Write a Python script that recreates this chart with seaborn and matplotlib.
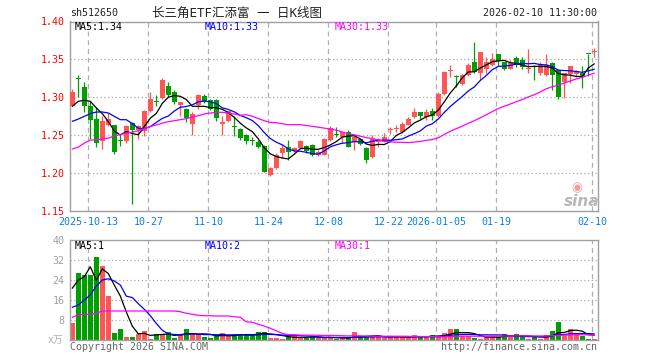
import numpy as np
import pandas as pd
import matplotlib
matplotlib.use("Agg")
import matplotlib.pyplot as plt
import seaborn as sns

# ---------------- data ----------------
dates = (["2025-09-30", "2025-10-09", "2025-10-10"]
         + ["2025-10-%02d" % d for d in (13, 14, 15, 16, 17, 20, 21, 22, 23, 24, 27, 28, 29, 30, 31)]
         + ["2025-11-%02d" % d for d in (3, 4, 5, 6, 7, 10, 11, 12, 13, 14, 17, 18, 19, 20, 21, 24, 25, 26, 27, 28)]
         + ["2025-12-%02d" % d for d in (1, 2, 3, 4, 5, 8, 9, 10, 11, 12, 15, 16, 17, 18, 19, 22, 23, 24, 25, 26, 29, 30, 31)]
         + ["2026-01-%02d" % d for d in (5, 6, 7, 8, 9, 12, 13, 14, 15, 16, 19, 20, 21, 22, 23, 26, 27, 28, 29, 30)]
         + ["2026-02-%02d" % d for d in (2, 3, 4, 5, 6, 9, 10)])

open_ = [1.289, 1.3245, 1.314, 1.289, 1.2715, 1.2427, 1.2635, 1.2638, 1.2434, 1.2418,
         1.2665, 1.2565, 1.255, 1.2824, 1.2942, 1.299, 1.3154, 1.3066, 1.2894, 1.285,
         1.2647, 1.2894, 1.3022, 1.2969, 1.2969, 1.2647, 1.2691, 1.2618, 1.2586, 1.2506,
         1.2429, 1.2405, 1.2361, 1.1977, 1.2065, 1.2264, 1.2343, 1.2286, 1.233, 1.2361,
         1.2369, 1.2242, 1.2242, 1.244, 1.2513, 1.248, 1.2546, 1.2414, 1.2444, 1.2334,
         1.2206, 1.2412, 1.2414, 1.2566, 1.2579, 1.2546, 1.2634, 1.2735, 1.2806, 1.2735,
         1.2819, 1.2753, 1.3044, 1.3346, 1.3267, 1.3176, 1.3295, 1.3467, 1.3317, 1.337,
         1.3428, 1.3573, 1.3463, 1.3375, 1.352, 1.3498, 1.3368, 1.3399, 1.3317, 1.3295,
         1.3459, 1.3362, 1.3207, 1.3309, 1.3309, 1.3326, 1.3571, 1.3602]
high = [1.311, 1.329, 1.320, 1.295, 1.2868, 1.2757, 1.279, 1.264, 1.2497, 1.264,
        1.267, 1.264, 1.283, 1.3075, 1.3035, 1.325, 1.320, 1.310, 1.2934, 1.286,
        1.2806, 1.3045, 1.304, 1.2975, 1.298, 1.2757, 1.2825, 1.2749, 1.259, 1.2515,
        1.2475, 1.244, 1.2374, 1.2079, 1.2264, 1.2374, 1.244, 1.234, 1.2435, 1.2374,
        1.238, 1.231, 1.2462, 1.262, 1.2612, 1.2546, 1.2568, 1.2502, 1.2455, 1.234,
        1.2497, 1.2458, 1.2524, 1.2603, 1.2634, 1.2678, 1.2735, 1.2855, 1.2806, 1.285,
        1.2855, 1.3075, 1.3348, 1.3428, 1.3295, 1.331, 1.345, 1.3723, 1.36, 1.3538,
        1.3591, 1.3573, 1.347, 1.3494, 1.3547, 1.3529, 1.3639, 1.3428, 1.346, 1.3569,
        1.3472, 1.337, 1.3326, 1.3414, 1.3355, 1.3414, 1.3573, 1.3648]
low = [1.288, 1.301, 1.281, 1.245, 1.234, 1.232, 1.262, 1.2246, 1.236, 1.240,
       1.159, 1.245, 1.2484, 1.281, 1.288, 1.298, 1.300, 1.291, 1.275, 1.2674,
       1.2506, 1.285, 1.292, 1.283, 1.2683, 1.2506, 1.268, 1.2484, 1.244, 1.238,
       1.2374, 1.233, 1.2008, 1.1964, 1.2052, 1.2198, 1.2175, 1.2275, 1.232, 1.2264,
       1.222, 1.222, 1.2235, 1.243, 1.248, 1.240, 1.2339, 1.2303, 1.237, 1.2136,
       1.2193, 1.2347, 1.2414, 1.2515, 1.2546, 1.2524, 1.263, 1.2722, 1.2709, 1.270,
       1.270, 1.2735, 1.303, 1.3273, 1.3141, 1.316, 1.328, 1.3317, 1.3229, 1.3317,
       1.3415, 1.3415, 1.336, 1.3375, 1.3406, 1.337, 1.3326, 1.3229, 1.3295, 1.3287,
       1.3097, 1.2978, 1.2987, 1.3185, 1.327, 1.3119, 1.3282, 1.3538]
close = [1.307, 1.324, 1.289, 1.2705, 1.2397, 1.269, 1.2715, 1.228, 1.243, 1.2625,
         1.257, 1.262, 1.2824, 1.2982, 1.2938, 1.3234, 1.3026, 1.2934, 1.2934, 1.2727,
         1.2784, 1.3026, 1.2934, 1.2846, 1.2727, 1.2674, 1.2815, 1.2614, 1.2462, 1.2418,
         1.2425, 1.2343, 1.2021, 1.2065, 1.2242, 1.2325, 1.2281, 1.2334, 1.2427, 1.2286,
         1.2242, 1.2281, 1.2453, 1.2594, 1.2509, 1.2537, 1.2347, 1.248, 1.2383, 1.2171,
         1.2444, 1.2416, 1.2471, 1.2570, 1.2583, 1.2647, 1.2709, 1.2802, 1.2753, 1.2806,
         1.2753, 1.3044, 1.3335, 1.3350, 1.3263, 1.3295, 1.3432, 1.334, 1.36, 1.3472,
         1.3507, 1.3485, 1.337, 1.345, 1.3428, 1.3397, 1.3372, 1.3395, 1.3441, 1.3428,
         1.3295, 1.30, 1.3326, 1.3414, 1.334, 1.3282, 1.3569, 1.3606]
volume = [6.9, 26.9, 26.1, 26.1, 33.3, 29.7, 17.7, 2.9, 4.5, 1.3,
          1.3, 2.4, 3.7, 0.5, 2.4, 2.1, 3.2, 0.9, 1.9, 4.5,
          2.3, 2.3, 1.3, 0.9, 1.6, 2.8, 1.9, 1.6, 2.4, 2.1,
          2.4, 3.3, 3.3, 0.9, 0.9, 0.5, 1.2, 1.9, 0.9, 0.9,
          1.2, 0.8, 1.3, 0.9, 0.4, 0.7, 0.7, 3.2, 1.3, 1.3,
          1.6, 1.3, 0.9, 1.2, 1.3, 1.3, 0.7, 1.9, 1.6, 1.2,
          2.0, 1.3, 2.8, 4.4, 4.4, 1.6, 1.6, 0.8, 0.5, 1.3,
          1.6, 1.3, 2.4, 1.3, 2.4, 1.3, 0.5, 1.3, 0.5, 1.9,
          3.7, 7.3, 1.6, 4.4, 2.7, 1.6, 0.5, 0.5]

# moving-average values at the start of the window (they depend on earlier sessions)
ma5_head = [1.2881, 1.2947, 1.296, 1.2947]
ma10_head = [1.2683, 1.2713, 1.2749, 1.2784, 1.2806, 1.2806, 1.2793, 1.2749, 1.2705]
ma30_head = [1.2317, 1.2343, 1.2396, 1.2436, 1.244, 1.2449, 1.2462, 1.2489, 1.251, 1.2528,
             1.2541, 1.2559, 1.2586, 1.2616, 1.2634, 1.266, 1.2678, 1.2691, 1.2705, 1.2718,
             1.274, 1.2757, 1.278, 1.2793, 1.2802, 1.2802, 1.2793, 1.278, 1.2762]
vma5_head = [20.7, 24.0, 25.3, 29.3]
vma10_head = [13.1, 14.0, 16.0, 18.0, 21.6, 24.0, 24.5, 23.6, 22.0]
vma30_head = [9.1, 10.0, 10.3, 10.3, 10.7, 11.6, 11.6, 11.6, 11.6, 11.6,
              11.6, 11.6, 11.6, 11.6, 11.6, 11.6, 11.6, 11.6, 11.3, 10.7,
              10.3, 9.9, 9.7, 9.7, 9.6, 9.6, 9.6, 9.3, 9.1]

tick_dates = ["2025-10-13", "2025-10-27", "2025-11-10", "2025-11-24", "2025-12-08",
              "2025-12-22", "2026-01-05", "2026-01-19", "2026-02-10"]
tick_labels = ["2025-10-13", "10-27", "11-10", "11-24", "12-08",
               "12-22", "2026-01-05", "01-19", "02-10"]
price_ticks = [1.15, 1.20, 1.25, 1.30, 1.35, 1.40]
vol_ticks = [8, 16, 24, 32, 40]

# ---------------- derived ----------------
df = pd.DataFrame({"date": dates, "open": open_, "high": high, "low": low,
                   "close": close, "volume": volume})
df["i"] = np.arange(len(df))


def moving(col, n, head):
    s = df[col].rolling(n).mean()
    s.iloc[:len(head)] = head
    return s


df["ma5"] = moving("close", 5, ma5_head)
df["ma10"] = moving("close", 10, ma10_head)
df["ma30"] = moving("close", 30, ma30_head)
df["vma5"] = moving("volume", 5, vma5_head)
df["vma10"] = moving("volume", 10, vma10_head)
df["vma30"] = moving("volume", 30, vma30_head)

RED = "#ff5555"
GREEN = "#009f00"
up = df["close"] >= df["open"]
colors = np.where(up, RED, GREEN)

# ---------------- figure ----------------
sns.set_theme(style="white")
plt.rcParams["font.family"] = ["DejaVu Sans Mono", "Noto Sans CJK SC"]
plt.rcParams["axes.linewidth"] = 0.9

W, H = 660, 360
fig = plt.figure(figsize=(W / 100, H / 100), dpi=100)
fig.patch.set_facecolor("white")

xl = (-0.383, 87.57)
ax = fig.add_axes([70 / W, (H - 211) / H, 527.7 / W, 189.5 / H])
axv = fig.add_axes([70 / W, (H - 340) / H, 527.7 / W, 100 / H])

tick_idx = [df.index[df["date"] == d][0] - 1 / 3 for d in tick_dates]

for a in (ax, axv):
    a.set_facecolor("white")
    a.set_xlim(*xl)
    for s in a.spines.values():
        s.set_color("#a0a0a0")
        s.set_linewidth(1.0)
    for xv in tick_idx:
        a.axvline(xv, color="#b0b0b0", lw=0.9, ls=(0, (4, 3)), zorder=0)

# price candles
ax.vlines(df["i"], df["low"], df["high"], colors=colors, lw=0.9, zorder=2)
body = np.maximum((df["close"] - df["open"]).abs(), 0.0013)
ax.bar(df["i"], body, bottom=np.minimum(df["open"], df["close"]), width=0.82,
       color=colors, linewidth=0, zorder=3)

sns.lineplot(data=df, x="i", y="ma5", ax=ax, color="black", lw=0.9, zorder=4)
sns.lineplot(data=df, x="i", y="ma10", ax=ax, color="#0000ff", lw=0.9, zorder=4)
sns.lineplot(data=df, x="i", y="ma30", ax=ax, color="#ff00ff", lw=0.9, zorder=4)

ax.set_ylim(1.15, 1.40)
ax.set_yticks(price_ticks)
ax.set_yticklabels(["%.2f" % v for v in price_ticks], color="#ff0000", fontsize=7.2)
for v in price_ticks[1:-1]:
    ax.axhline(v, color="#a8a8a8", lw=0.9, ls=(0, (1, 2)), zorder=0)
ax.set_xticks(tick_idx)
ax.set_xticklabels(tick_labels, color="#0a80d8", fontsize=7.2)
ax.tick_params(axis="both", length=0, pad=4)
ax.tick_params(axis="x", pad=4)
ax.set_xlabel("")
ax.set_ylabel("")

# volume
axv.bar(df["i"], df["volume"], width=0.82, color=colors, linewidth=0, zorder=2)
sns.lineplot(data=df, x="i", y="vma5", ax=axv, color="black", lw=0.9, zorder=4)
sns.lineplot(data=df, x="i", y="vma10", ax=axv, color="#0000ff", lw=0.9, zorder=4)
sns.lineplot(data=df, x="i", y="vma30", ax=axv, color="#ff00ff", lw=0.9, zorder=4)
axv.set_ylim(0, 40)
axv.set_yticks(vol_ticks)
axv.set_yticklabels([str(v) for v in vol_ticks], color="#a0a0a0", fontsize=7.2)
for v in vol_ticks[:-1]:
    axv.axhline(v, color="#a8a8a8", lw=0.9, ls=(0, (1, 2)), zorder=0)
axv.set_xticks([])
axv.tick_params(axis="y", length=0, pad=4)
axv.set_xlabel("")
axv.set_ylabel("")


def ptext(x, y, s, **kw):
    fig.text(x / W, 1 - y / H, s, va="center", **kw)


# header texts
ptext(70, 13, "sh512650", fontsize=7.2, color="#222222")
ptext(237, 13, "长三角ETF汇添富 一 日K线图", fontsize=9, color="#222222", ha="center")
ptext(597, 13, "2026-02-10 11:30:00", fontsize=7.2, color="#222222", ha="right")

# legends
ptext(75, 27, "MA5:1.34", fontsize=7.2, color="black")
ptext(205, 27, "MA10:1.33", fontsize=7.2, color="#0000ff")
ptext(335, 27, "MA30:1.33", fontsize=7.2, color="#ff00ff")
ptext(75, 246, "MA5:1", fontsize=7.2, color="black")
ptext(205, 246, "MA10:2", fontsize=7.2, color="#0000ff")
ptext(335, 246, "MA30:1", fontsize=7.2, color="#ff00ff")

# footer
ptext(48, 340, "x万", fontsize=7, color="#b0b0b0")
ptext(70, 347, "Copyright 2026 SINA.COM", fontsize=7.2, color="#666666")
ptext(597, 347, "http://finance.sina.com.cn", fontsize=7.2, color="#666666", ha="right")

# watermark
ptext(577, 188, "◉", fontsize=9, color="#f4a0a0", ha="center", family="DejaVu Sans")
ptext(582, 202, "sina", fontsize=11, color="#b8b8b8", ha="center",
      family="DejaVu Sans", fontweight="bold", style="italic")

fig.savefig("out.png", dpi=100, facecolor="white")
